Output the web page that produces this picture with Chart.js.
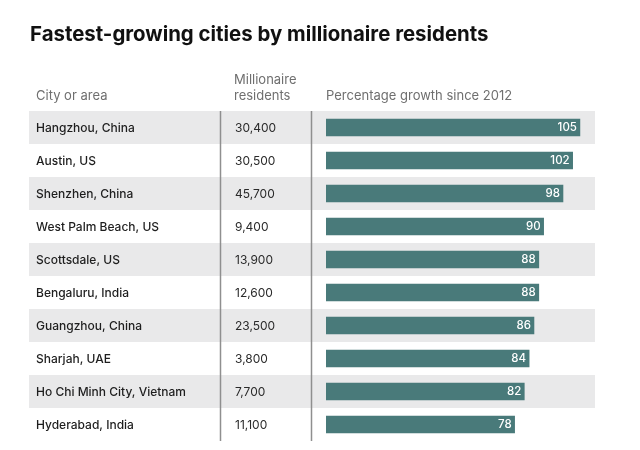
<!DOCTYPE html>
<html>
<head>
<meta charset="utf-8">
<script src="https://cdn.jsdelivr.net/npm/chart.js@4"></script>
<style>
html,body{margin:0;padding:0;background:#fff;}
#wrap{width:640px;height:450px;position:relative;}
</style>
</head>
<body>
<div id="wrap"><canvas id="c" width="640" height="450"></canvas></div>
<script>
const cities = ["Hangzhou, China","Austin, US","Shenzhen, China","West Palm Beach, US","Scottsdale, US","Bengaluru, India","Guangzhou, China","Sharjah, UAE","Ho Chi Minh City, Vietnam","Hyderabad, India"];
const millionaires = ["30,400","30,500","45,700","9,400","13,900","12,600","23,500","3,800","7,700","11,100"];
const growth = [105,102,98,90,88,88,86,84,82,78];
const titleText = "Fastest-growing cities by millionaire residents";
const headers = {city:"City or area", mil:["Millionaire","residents"], growth:"Percentage growth since 2012"};

const FONT = "Inter, 'Open Sans', sans-serif";
const BAR = "#497a7a";

const tablePlugin = {
  id:'table',
  beforeDatasetsDraw(chart){
    const ctx = chart.ctx, y = chart.scales.y;
    ctx.save();
    cities.forEach((c,i)=>{
      if(i%2===0){
        const yc = y.getPixelForValue(i);
        ctx.fillStyle = "#e9e9ea";
        ctx.fillRect(29, yc-16.5, 566, 33);
      }
    });
    const top = y.getPixelForValue(0)-16.5, bot = y.getPixelForValue(cities.length-1)+16.5;
    ctx.strokeStyle = "#8f8f8f"; ctx.lineWidth = 1.5;
    [220.5, 311.5].forEach(x=>{ctx.beginPath();ctx.moveTo(x,top);ctx.lineTo(x,bot);ctx.stroke();});
    ctx.fillStyle = "#111";
    ctx.font = "bold 20.4px " + FONT;
    ctx.textBaseline = "middle"; ctx.textAlign = "left";
    ctx.fillText(titleText, 30, 35);
    ctx.fillStyle = "#6f6f6f";
    ctx.font = "13px " + FONT;
    ctx.fillText(headers.city, 36, 96);
    ctx.fillText(headers.mil[0], 234, 80);
    ctx.fillText(headers.mil[1], 234, 96);
    ctx.fillText(headers.growth, 326, 96);
    cities.forEach((c,i)=>{
      const yc = y.getPixelForValue(i) + 1;
      ctx.fillStyle = "#1e1e1e";
      ctx.font = "500 12px " + FONT;
      ctx.fillText(c, 36, yc);
      ctx.fillStyle = "#2a2a2a";
      ctx.font = "12px " + FONT;
      ctx.fillText(millionaires[i], 235, yc);
    });
    ctx.restore();
  },
  afterDatasetsDraw(chart){
    const ctx = chart.ctx, meta = chart.getDatasetMeta(0);
    ctx.save();
    ctx.fillStyle = "#fff";
    ctx.font = "500 11.5px " + FONT;
    ctx.textAlign = "right"; ctx.textBaseline = "middle";
    meta.data.forEach((bar,i)=>{
      ctx.fillText(String(growth[i]), bar.x-3, bar.y+0.5);
    });
    ctx.restore();
  }
};

new Chart(document.getElementById('c'), {
  type:'bar',
  data:{labels:cities, datasets:[{data:growth, backgroundColor:BAR, borderWidth:0, barThickness:17}]},
  options:{
    indexAxis:'y',
    responsive:false, animation:false,
    layout:{padding:{left:326,right:48,top:111,bottom:9}},
    plugins:{legend:{display:false}, tooltip:{enabled:false}, title:{display:false}},
    scales:{
      x:{display:false, min:0, max:110},
      y:{display:false}
    }
  },
  plugins:[tablePlugin]
});
</script>
</body>
</html>
